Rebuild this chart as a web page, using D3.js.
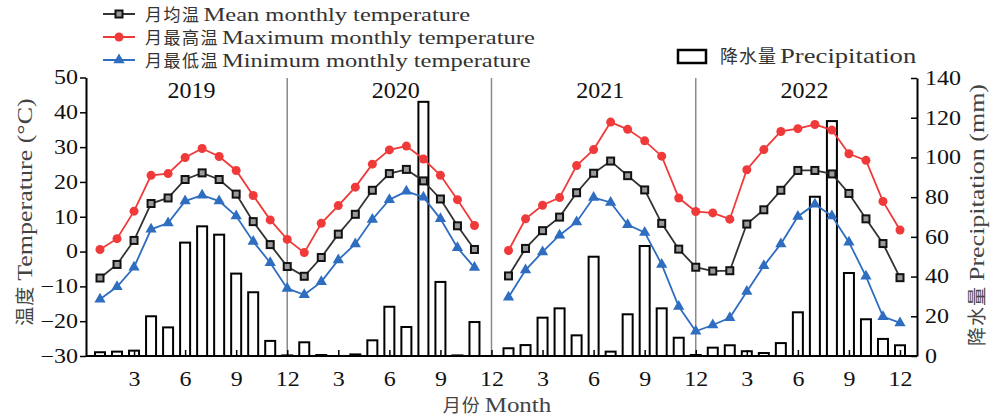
<!DOCTYPE html>
<html>
<head>
<meta charset="utf-8">
<script src="https://cdn.jsdelivr.net/npm/d3@7"></script>
<style>
  body { margin: 0; background: #fff; }
</style>
</head>
<body>
<svg id="chart" width="991" height="416"></svg>
<script>
// ---- data, Jan 2019 .. Dec 2022, null = missing
var years = ['2019', '2020', '2021', '2022'];
var tickMonths = [3, 6, 9, 12];

var meanTemp = [
  -7.6, -3.7, 3.2, 13.8, 15.4, 20.7, 22.6, 20.7, 16.5, 8.6, 2.0, -4.3,   // 2019
  -7.1, -1.7, 5.0, 10.7, 17.6, 22.4, 23.6, 20.3, 15.1, 7.4, 0.6, null,   // 2020
  -7.0, 0.9, 6.0, 9.9, 16.9, 22.5, 26.0, 21.8, 17.7, 8.1, 0.7, -4.5,     // 2021
  -5.6, -5.5, 7.9, 12.0, 17.6, 23.3, 23.3, 22.3, 16.7, 9.4, 2.3, -7.5    // 2022
];
var maxTemp = [
  0.6, 3.7, 11.6, 21.9, 22.4, 27.0, 29.6, 27.3, 23.3, 16.1, 9.1, 3.5,
  -0.3, 8.1, 13.2, 18.5, 25.1, 29.2, 30.3, 26.6, 21.9, 14.9, 7.5, null,
  0.3, 9.4, 13.3, 15.5, 24.7, 29.3, 37.2, 35.1, 31.8, 27.4, 15.4, 11.5,
  11.1, 9.3, 23.5, 29.3, 34.5, 35.3, 36.5, 34.9, 28.1, 26.2, 14.4, 6.2
];
var minTemp = [
  -13.7, -10.1, -4.5, 6.4, 8.2, 14.5, 16.2, 14.5, 10.2, 2.9, -3.2, -10.6,
  -12.4, -8.7, -2.4, 2.2, 9.2, 14.9, 17.3, 15.6, 9.4, 1.1, -4.6, null,
  -13.1, -5.3, -0.1, 4.7, 8.5, 15.5, 14.1, 7.7, 5.5, -3.7, -15.8, -22.9,
  -21.1, -19.0, -11.5, -4.1, 2.2, 10.1, 13.6, 10.2, 2.7, -7.1, -18.7, -20.5
];
var precip = [
  1.9, 2.2, 2.7, 20.0, 14.4, 57.1, 65.3, 61.1, 41.5, 32.1, 7.6, 0.3,
  6.9, 0.5, 0, 0.8, 7.9, 24.8, 14.6, 128, 37.3, 0.3, 17.1, null,
  3.9, 5.5, 19.3, 24.0, 10.4, 50.0, 2.2, 21.0, 55.4, 24.0, 9.2, 0.5,
  4.2, 5.4, 2.4, 1.5, 6.5, 22.0, 80.2, 118.3, 41.8, 18.5, 8.6, 5.4
];

var cjkFont = '"Noto Sans CJK SC", sans-serif';
var latinFont = '"Liberation Serif", "Times New Roman", serif';

var svg = d3.select('#chart');

var plotL = 86, plotR = 917, plotT = 77.5, plotB = 356;
var x = d3.scaleLinear().domain([0, 47]).range([100, 900]);
var yT = d3.scaleLinear().domain([-30, 50]).range([plotB, plotT]);
var yP = d3.scaleLinear().domain([0, 140]).range([plotB, 78]);

var colors = { mean: '#333333', max: '#f03a3a', min: '#2f6dc0' };

// mixed chinese + latin label (latin part stretched sideways like the source)
function mixedLabel(parent, px, py, cjk, latin, o) {
  var g = parent.append('g')
    .attr('transform', 'translate(' + px + ',' + py + ')' + (o.rotate ? ' rotate(' + o.rotate + ')' : ''));
  var t1 = g.append('text')
    .attr('font-family', cjkFont).attr('font-size', o.cjkSize)
    .attr('letter-spacing', o.ls || 0)
    .attr('fill', o.color).text(cjk);
  var w1 = t1.node().getComputedTextLength();
  var t2 = g.append('text')
    .attr('font-family', latinFont).attr('font-size', o.size)
    .attr('fill', o.color).text(latin);
  var w2 = t2.node().getComputedTextLength() * o.sx;
  var shift = o.anchor === 'middle' ? -(w1 + o.gap + w2) / 2 : 0;
  t1.attr('x', shift);
  t2.attr('transform', 'translate(' + (shift + w1 + o.gap) + ',0) scale(' + o.sx + ',1)');
  return g;
}

// year separators
svg.append('g').selectAll('line')
  .data([11, 23, 35])
  .join('line')
  .attr('x1', function (d) { return x(d); })
  .attr('x2', function (d) { return x(d); })
  .attr('y1', 78).attr('y2', plotB)
  .attr('stroke', '#8a8a8a').attr('stroke-width', 1.5);

// precipitation bars
var bw = 10;
svg.append('g').selectAll('rect')
  .data(precip.map(function (v, i) { return { i: i, v: v }; }).filter(function (d) { return d.v !== null; }))
  .join('rect')
  .attr('x', function (d) { return x(d.i) - bw / 2; })
  .attr('y', function (d) { return yP(d.v); })
  .attr('width', bw)
  .attr('height', function (d) { return plotB - yP(d.v); })
  .attr('fill', '#fff')
  .attr('stroke', '#000')
  .attr('stroke-width', 2);

// axes
var axL = svg.append('g').attr('transform', 'translate(' + plotL + ',0)')
  .call(d3.axisLeft(yT).tickValues(d3.range(-30, 51, 10)).tickSize(6).tickSizeOuter(0).tickPadding(2));
axL.selectAll('text').attr('x', -8 / 1.2).attr('transform', 'scale(1.2,1)');

var axR = svg.append('g').attr('transform', 'translate(' + plotR + ',0)')
  .call(d3.axisRight(yP).tickValues(d3.range(0, 141, 20)).tickSizeInner(-6).tickSizeOuter(0).tickPadding(8));
axR.selectAll('text').attr('x', 8 / 1.2).attr('transform', 'scale(1.2,1)');

var tickIdx = [];
years.forEach(function (y, k) {
  tickMonths.forEach(function (m) { tickIdx.push(k * 12 + m - 1); });
});
var axB = svg.append('g').attr('transform', 'translate(0,' + plotB + ')')
  .call(d3.axisBottom(x).tickValues(tickIdx).tickSizeInner(-6).tickSizeOuter(0)
    .tickFormat(function (d) { return (d % 12) + 1; }));
axB.select('.domain').remove();
axB.selectAll('text').attr('y', 30).attr('dy', null).attr('x', 0).attr('transform', 'scale(1.2,1)');

svg.append('line')
  .attr('x1', plotL).attr('x2', plotR)
  .attr('y1', plotB).attr('y2', plotB)
  .attr('stroke', '#000').attr('stroke-width', 2);

[axL, axR, axB].forEach(function (a) {
  a.selectAll('text').attr('font-family', latinFont).attr('font-size', 20).attr('fill', '#111');
  a.selectAll('line').attr('stroke', '#000').attr('stroke-width', 1.5);
  a.selectAll('.domain').attr('stroke', '#000').attr('stroke-width', 2);
});

// year labels
svg.append('g').selectAll('text')
  .data(years)
  .join('text')
  .attr('x', function (d, k) { return x(k * 12 + 5.5) - 2; })
  .attr('y', 98)
  .attr('text-anchor', 'middle')
  .attr('font-family', latinFont)
  .attr('font-size', 24)
  .attr('fill', '#111')
  .text(function (d) { return d; });

// temperature lines
var series = [
  { key: 'max', values: maxTemp, symbol: 'circle' },
  { key: 'mean', values: meanTemp, symbol: 'square' },
  { key: 'min', values: minTemp, symbol: 'triangle' }
];
var line = d3.line()
  .defined(function (d) { return d !== null; })
  .x(function (d, i) { return x(i); })
  .y(function (d) { return yT(d); });

function drawMarker(sel, kind, color) {
  if (kind === 'circle') {
    sel.append('circle').attr('r', 4.5).attr('fill', color);
  } else if (kind === 'square') {
    sel.append('rect').attr('x', -3.5).attr('y', -3.5).attr('width', 7).attr('height', 7)
      .attr('fill', '#9a9a9a').attr('stroke', '#111').attr('stroke-width', 2);
  } else {
    sel.append('path').attr('d', d3.symbol(d3.symbolTriangle, 55)()).attr('fill', color);
  }
}

series.forEach(function (s) {
  svg.append('path')
    .datum(s.values)
    .attr('d', line)
    .attr('fill', 'none')
    .attr('stroke', colors[s.key])
    .attr('stroke-width', 1.8);
  svg.append('g').selectAll('g')
    .data(s.values.map(function (v, i) { return { i: i, v: v }; }).filter(function (d) { return d.v !== null; }))
    .join('g')
    .attr('transform', function (d) { return 'translate(' + x(d.i) + ',' + yT(d.v) + ')'; })
    .each(function () { drawMarker(d3.select(this), s.symbol, colors[s.key]); });
});

// legend
var legendItems = [
  { key: 'mean', symbol: 'square', cjk: '月均温', latin: 'Mean monthly temperature' },
  { key: 'max', symbol: 'circle', cjk: '月最高温', latin: 'Maximum monthly temperature' },
  { key: 'min', symbol: 'triangle', cjk: '月最低温', latin: 'Minimum monthly temperature' }
];
legendItems.forEach(function (d, k) {
  var cy = 14 + k * 23;
  svg.append('line').attr('x1', 103).attr('x2', 135).attr('y1', cy).attr('y2', cy)
    .attr('stroke', colors[d.key]).attr('stroke-width', 2);
  var m = svg.append('g').attr('transform', 'translate(119,' + cy + ')');
  drawMarker(m, d.symbol, colors[d.key]);
  mixedLabel(svg, 145, cy + 7, d.cjk, d.latin, { cjkSize: 17, ls: 1.5, size: 19, sx: 1.29, gap: 3, color: '#333' });
});

svg.append('rect').attr('x', 678).attr('y', 50).attr('width', 28).attr('height', 13)
  .attr('fill', '#fff').attr('stroke', '#000').attr('stroke-width', 2.5);
mixedLabel(svg, 720, 63, '降水量', 'Precipitation', { cjkSize: 18, ls: 1, size: 21, sx: 1.27, gap: 3, color: '#333' });

// axis titles
mixedLabel(svg, 497, 412, '月份', 'Month', { cjkSize: 18, ls: 1, size: 20, sx: 1.25, gap: 4, color: '#444', anchor: 'middle' });
mixedLabel(svg, 32, 212, '温度', 'Temperature (°C)', { cjkSize: 19, ls: 1, size: 20, sx: 1.3, gap: 5, color: '#444', anchor: 'middle', rotate: -90 });
mixedLabel(svg, 984, 215, '降水量', 'Precipitation (mm)', { cjkSize: 19, ls: 1, size: 20, sx: 1.3, gap: 5, color: '#444', anchor: 'middle', rotate: -90 });
</script>
</body>
</html>
